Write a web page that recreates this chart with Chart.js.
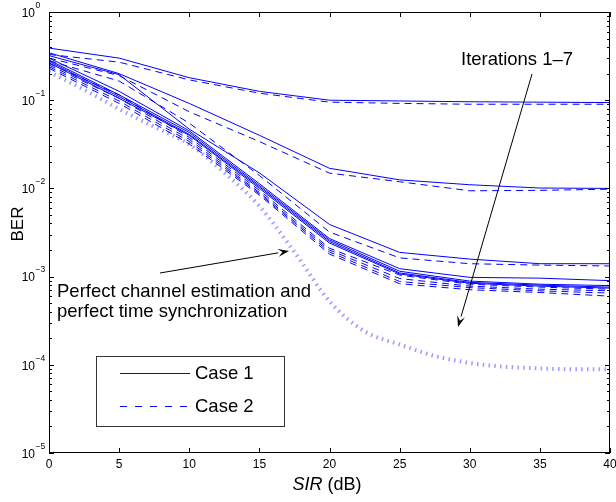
<!DOCTYPE html>
<html>
<head>
<meta charset="utf-8">
<script src="https://cdn.jsdelivr.net/npm/chart.js@4/dist/chart.umd.min.js"></script>
<style>
html,body{margin:0;padding:0;background:#fff;}
#c{display:block;}
</style>
</head>
<body>
<canvas id="c" width="616" height="502"></canvas>
<script>
// ---- data ----
const sir = [0, 5, 10, 15, 20, 25, 30, 35, 40];
const xTicks = [0, 5, 10, 15, 20, 25, 30, 35, 40];
const yDecades = [-5, -4, -3, -2, -1, 0];

// Case 1 (solid), iterations 1-7
const case1Iter1 = [0.39, 0.30, 0.18, 0.126, 0.100, 0.098, 0.096, 0.095, 0.094];
const case1Iter2 = [0.345, 0.20, 0.092, 0.040, 0.0169, 0.0125, 0.0110, 0.0101, 0.0100];
const case1Iter3 = [0.32, 0.195, 0.047, 0.015, 0.0039, 0.00188, 0.00158, 0.0014, 0.0014];
const case1Iter4 = [0.30, 0.126, 0.045, 0.0113, 0.0027, 0.00123, 0.00098, 0.00096, 0.00090];
const case1Iter5 = [0.285, 0.115, 0.043, 0.0108, 0.0026, 0.00115, 0.00089, 0.00082, 0.00079];
const case1Iter6 = [0.275, 0.110, 0.041, 0.0104, 0.0025, 0.00110, 0.00086, 0.00080, 0.00076];
const case1Iter7 = [0.265, 0.105, 0.040, 0.0100, 0.0024, 0.00107, 0.00084, 0.00078, 0.00074];

// Case 2 (dashed), iterations 1-7
const case2Iter1 = [0.33, 0.27, 0.17, 0.12, 0.095, 0.092, 0.090, 0.090, 0.090];
const case2Iter2 = [0.30, 0.19, 0.074, 0.034, 0.0149, 0.0119, 0.0094, 0.0095, 0.0098];
const case2Iter3 = [0.28, 0.165, 0.055, 0.014, 0.0032, 0.00163, 0.0014, 0.00135, 0.00132];
const case2Iter4 = [0.26, 0.115, 0.038, 0.0095, 0.0021, 0.00104, 0.00082, 0.00076, 0.00072];
const case2Iter5 = [0.25, 0.105, 0.036, 0.0090, 0.0020, 0.00095, 0.00078, 0.00072, 0.00069];
const case2Iter6 = [0.24, 0.098, 0.034, 0.0087, 0.0019, 0.00088, 0.00075, 0.00069, 0.00065];
const case2Iter7 = [0.23, 0.092, 0.032, 0.0084, 0.0018, 0.00083, 0.00071, 0.00066, 0.00060];

// Perfect channel estimation and perfect time synchronization (dotted)
const sirFine = [0, 2.5, 5, 7.5, 10, 12.5, 15, 17.5, 20, 22.5, 25, 27.5, 30, 32.5, 35, 37.5, 40];
const perfectBER = [0.209, 0.132, 0.0794, 0.050, 0.0316, 0.0151, 0.0063, 0.0019, 0.000525, 0.00024, 0.00017, 0.000126, 0.000105, 0.000095, 0.000091, 0.000089, 0.000089];

const case1 = [case1Iter1, case1Iter2, case1Iter3, case1Iter4, case1Iter5, case1Iter6, case1Iter7];
const case2 = [case2Iter1, case2Iter2, case2Iter3, case2Iter4, case2Iter5, case2Iter6, case2Iter7];

const BLUE = '#0000ff';
const FONT = '"Liberation Sans", Arial, Helvetica, sans-serif';

const pts = (xs, ys) => xs.map((x, i) => ({x: x, y: ys[i]}));
const datasets = [];
case2.forEach((d, i) => datasets.push({label: 'Case 2 it' + (i + 1), data: pts(sir, d), borderColor: BLUE, borderWidth: 1, borderDash: [7, 5], pointRadius: 0, fill: false, tension: 0}));
case1.forEach((d, i) => datasets.push({label: 'Case 1 it' + (i + 1), data: pts(sir, d), borderColor: BLUE, borderWidth: 1, pointRadius: 0, fill: false, tension: 0}));
datasets.push({label: 'Perfect', data: pts(sirFine, perfectBER), borderColor: 'rgba(70,70,255,0.55)', borderWidth: 4, borderDash: [1.5, 4.3], borderCapStyle: 'butt', pointRadius: 0, fill: false, cubicInterpolationMode: 'monotone'});

function arrow(ctx, x1, y1, x2, y2) {
  ctx.save();
  ctx.strokeStyle = '#000'; ctx.fillStyle = '#000'; ctx.lineWidth = 1;
  const a = Math.atan2(y2 - y1, x2 - x1);
  const L = 11, W = 4;
  const bx = x2 - L * Math.cos(a), by = y2 - L * Math.sin(a);
  ctx.beginPath(); ctx.moveTo(x1, y1); ctx.lineTo(bx, by); ctx.stroke();
  ctx.beginPath();
  ctx.moveTo(x2, y2);
  ctx.lineTo(bx + W * Math.sin(a), by - W * Math.cos(a));
  ctx.lineTo(x2 - 0.6 * L * Math.cos(a), y2 - 0.6 * L * Math.sin(a));
  ctx.lineTo(bx - W * Math.sin(a), by + W * Math.cos(a));
  ctx.closePath(); ctx.fill();
  ctx.restore();
}

const decor = {
  id: 'decor',
  afterDraw(chart) {
    const ctx = chart.ctx, a = chart.chartArea;
    const xs = chart.scales.x, ys = chart.scales.y;
    ctx.save();
    // frame
    ctx.strokeStyle = '#000'; ctx.lineWidth = 1;
    ctx.strokeRect(a.left + 0.5, a.top + 0.5, a.right - a.left - 1, a.bottom - a.top - 1);
    // x ticks
    ctx.beginPath();
    xTicks.forEach(v => {
      const px = Math.round(xs.getPixelForValue(v)) + 0.5;
      ctx.moveTo(px, a.bottom); ctx.lineTo(px, a.bottom - 5);
      ctx.moveTo(px, a.top); ctx.lineTo(px, a.top + 5);
    });
    // y ticks
    yDecades.forEach(d => {
      const py = Math.round(ys.getPixelForValue(Math.pow(10, d))) + 0.5;
      ctx.moveTo(a.left, py); ctx.lineTo(a.left + 5, py);
      ctx.moveTo(a.right, py); ctx.lineTo(a.right - 5, py);
      if (d < 0) {
        for (let k = 2; k <= 9; k++) {
          const pm = Math.round(ys.getPixelForValue(k * Math.pow(10, d))) + 0.5;
          ctx.moveTo(a.left, pm); ctx.lineTo(a.left + 3, pm);
          ctx.moveTo(a.right, pm); ctx.lineTo(a.right - 3, pm);
        }
      }
    });
    ctx.stroke();
    // x tick labels
    ctx.fillStyle = '#000';
    ctx.font = '12px ' + FONT;
    ctx.textAlign = 'center'; ctx.textBaseline = 'middle';
    xTicks.forEach(v => ctx.fillText(String(v), xs.getPixelForValue(v), 465));
    // y tick labels
    yDecades.forEach(d => {
      const py = ys.getPixelForValue(Math.pow(10, d));
      ctx.font = '12px ' + FONT;
      ctx.textAlign = 'right'; ctx.textBaseline = 'middle';
      ctx.fillText('10', 35, py + 1.5);
      ctx.font = '8.5px ' + FONT;
      ctx.textAlign = 'left';
      ctx.fillText(d === 0 ? '0' : '\u2212' + Math.abs(d), 35.5, py - 6.5);
    });
    // axis titles
    ctx.font = '17px ' + FONT;
    ctx.save();
    ctx.translate(18, 224); ctx.rotate(-Math.PI / 2);
    ctx.textAlign = 'center'; ctx.textBaseline = 'middle';
    ctx.fillText('BER', 0, 0);
    ctx.restore();
    ctx.font = 'italic 18px ' + FONT;
    const w1 = ctx.measureText('SIR').width;
    ctx.font = '18px ' + FONT;
    const w2 = ctx.measureText(' (dB)').width;
    const sx = 327 - (w1 + w2) / 2;
    ctx.textAlign = 'left'; ctx.textBaseline = 'middle';
    ctx.font = 'italic 18px ' + FONT;
    ctx.fillText('SIR', sx, 485);
    ctx.font = '18px ' + FONT;
    ctx.fillText(' (dB)', sx + w1, 485);
    // annotations
    ctx.font = '18.5px ' + FONT;
    ctx.textAlign = 'left'; ctx.textBaseline = 'middle';
    ctx.fillText('Iterations 1\u20137', 461, 60);
    ctx.fillText('Perfect channel estimation and', 57, 292);
    ctx.fillText('perfect time synchronization', 57, 312);
    arrow(ctx, 532, 74, 458, 327);
    arrow(ctx, 160, 273, 289, 251);
    // legend
    ctx.fillStyle = '#fff';
    ctx.fillRect(96.5, 356.5, 188, 70);
    ctx.strokeStyle = '#333'; ctx.lineWidth = 1;
    ctx.strokeRect(96.5, 356.5, 188, 70);
    ctx.strokeStyle = BLUE;
    ctx.beginPath(); ctx.moveTo(120, 373.5); ctx.lineTo(190, 373.5); ctx.stroke();
    ctx.setLineDash([7, 8]);
    ctx.beginPath(); ctx.moveTo(120, 406.5); ctx.lineTo(190, 406.5); ctx.stroke();
    ctx.setLineDash([]);
    ctx.fillStyle = '#000';
    ctx.font = '18.5px ' + FONT;
    ctx.fillText('Case 1', 195, 374);
    ctx.fillText('Case 2', 195, 407);
    ctx.restore();
  }
};

new Chart(document.getElementById('c'), {
  type: 'line',
  data: {datasets: datasets},
  options: {
    responsive: false,
    animation: false,
    devicePixelRatio: 1,
    layout: {padding: {top: 12, right: 6, left: 0, bottom: 0}},
    plugins: {legend: {display: false}, tooltip: {enabled: false}},
    scales: {
      x: {type: 'linear', min: 0, max: 40, ticks: {display: false}, grid: {display: false}, border: {display: false},
          afterFit(s) { s.height = 49; }},
      y: {type: 'logarithmic', min: 1e-5, max: 1, ticks: {display: false}, grid: {display: false}, border: {display: false},
          afterFit(s) { s.width = 49; }}
    }
  },
  plugins: [decor]
});
</script>
</body>
</html>
